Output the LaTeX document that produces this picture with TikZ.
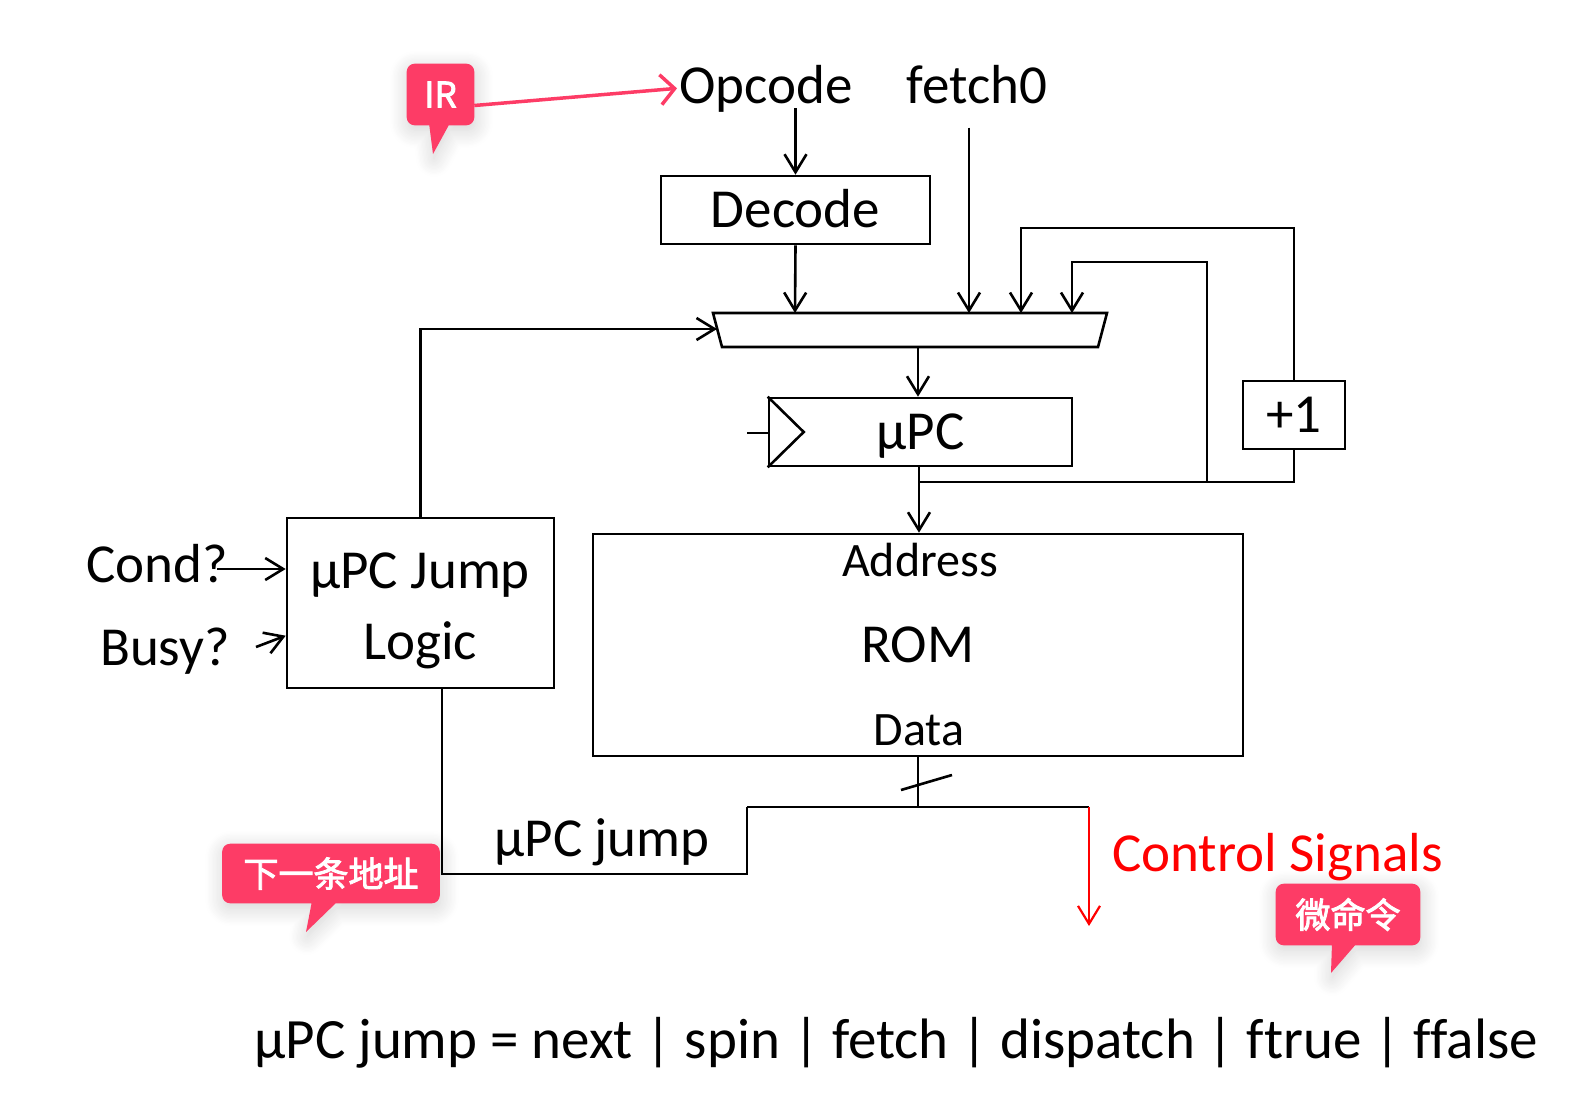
\documentclass[tikz,border=0pt]{standalone}
\usepackage{fontspec}
\setmainfont{Carlito}[Ligatures=NoCommon]
\newfontfamily\cjk{Noto Sans CJK SC}[FakeBold=2.5]
\usetikzlibrary{arrows.meta,calc,backgrounds,shadows.blur}
\definecolor{callpink}{RGB}{253,60,102}
\definecolor{sigred}{RGB}{255,0,0}
\begin{document}
\begin{tikzpicture}[x=1pt,y=-1pt,line width=2.6pt,
  txt/.style={inner sep=0pt,font=\fontsize{55}{66}\selectfont},
  smalltxt/.style={inner sep=0pt,font=\fontsize{48}{58}\selectfont},
  box/.style={draw,inner sep=0pt,font=\fontsize{55}{66}\selectfont,text height=35pt,text depth=0pt},
  plainbox/.style={draw,inner sep=0pt},
  arr/.style={-{Straight Barb[length=18pt,width=22pt]}},
  callnode/.style={inner sep=0pt,text=white,font=\cjk\fontsize{35}{40}\selectfont},
  callfill/.style={fill=callpink,blur shadow={shadow xshift=1pt,shadow yshift=-5pt,shadow opacity=18,shadow blur radius=18pt,shadow blur steps=14}}
]
\useasboundingbox (0,0) rectangle (1588,1098);

% texts at top
\node[txt,anchor=base] (opcode) at (766,103) {Opcode};
\node[txt,anchor=base] (fetch0) at (977,103) {fetch0};

% boxes
\node[box,minimum width=269pt,minimum height=68pt] (decode) at (795.5,210) {Decode};
\node[box,minimum width=303pt,minimum height=68pt] (upc) at (920.5,432) {µPC};
\node[box,minimum width=102pt,minimum height=68pt] (plus1) at (1294,415) {+1};
\node[box,minimum width=650pt,minimum height=222pt] (rom) at (918,645) {ROM};
\node[smalltxt,anchor=base] (addr) at (920,576) {Address};
\node[smalltxt,anchor=base] (data) at (919,745) {Data};
\node[plainbox,minimum width=267pt,minimum height=170pt] (logic) at (420.5,603) {};
\node[txt,anchor=base] (logic1) at (420,588) {µPC Jump};
\node[txt,anchor=base] (logic2) at (420,659) {Logic};

% side / bottom labels
\node[txt,anchor=base] (cond) at (157,582) {Cond?};
\node[txt,anchor=base] (busy) at (165,665) {Busy?};
\node[txt,anchor=base] (jumplbl) at (602,856) {µPC jump};
\node[txt,anchor=base west,text=sigred] (ctrl) at (1111,871) {Control Signals};
\node[inner sep=0pt,font=\fontsize{57}{66}\selectfont,anchor=base west] (eqn) at (253,1058) {µPC jump = next | spin | fetch | dispatch | ftrue | ffalse};

% mux
\coordinate (mtl) at (713,313);
\coordinate (mtr) at (1107,313);
\coordinate (mbr) at (1098,347);
\coordinate (mbl) at (722,347);
\draw (mtl) -- (mtr) -- (mbr) -- (mbl) -- cycle;
\coordinate (m1) at (795,313);
\coordinate (m2) at (969,313);
\coordinate (m3) at (1021,313);
\coordinate (m4) at (1072,313);
\coordinate (mout) at (918,347);
\coordinate (min) at (717,329);

% clock symbol
\draw (upc.north west) -- ($(upc.west)+(36,0)$) -- (upc.south west);
\coordinate (clk) at (747,433);
\draw (clk) -- (clk -| upc.west);

% connectors
\draw[arr] ($(decode.north |- opcode.south)+(0,-5)$) -- (decode.north);
\draw[arr] (decode.south) -- (m1);
\draw[arr] ($(m2 |- fetch0.south)+(0,23)$) -- (m2);
\draw[arr] (mout) -- (mout |- upc.north);
\coordinate (j1) at (919,482);
\draw[arr] (upc.south -| j1) -- (j1 |- rom.north);
\draw (j1) -| (plus1.south);
\coordinate (outerTop) at (1021,228);
\draw[arr] (plus1.north) |- (outerTop) -- (m3);
\coordinate (tap) at (1207,482);
\coordinate (innerTop) at (1072,262);
\draw[arr] (tap) |- (innerTop) -- (m4);
\draw[arr] (logic.north) |- (min);

% ROM output
\coordinate (j2) at (918,807);
\draw (rom.south) -- (j2);
\coordinate (s1) at (901,790);
\coordinate (s2) at (952,775);
\draw (s1) -- (s2);
\coordinate (jl) at (747,807);
\coordinate (jr) at (1089,807);
\draw (jl) -- (jr);
\coordinate (jlb) at (747,874);
\coordinate (lb) at ($(logic.south)+(21.5,0)$);
\draw (jl) -- (jlb) -| (lb);
\coordinate (cs) at (1089,926);
\draw[sigred,line width=2.2pt,arr] (jr) -- (cs);

% inputs to logic
\coordinate (conda) at (217,569);
\draw[arr] (conda) -- (conda -| logic.west);
\coordinate (busya) at (256,647);
\coordinate (busyb) at ($(logic.north west)+(0,119)$);
\draw[arr] (busya) -- (busyb);

% callouts
\node[callnode,minimum width=65pt,minimum height=59pt] (ir) at (440.5,94.5) {IR};
\node[callnode,minimum width=215pt,minimum height=57pt] (nextaddr) at (331,873.5) {下一条地址};
\node[callnode,minimum width=142pt,minimum height=59pt] (micro) at (1348,914.5) {微命令};
\begin{scope}[on background layer]
\fill[callfill] [rounded corners=8pt] (ir.south west) rectangle (ir.north east)
  [sharp corners] (429,123) -- (450,123) -- (433,154) -- cycle;
\fill[callfill] [rounded corners=8pt] (nextaddr.south west) rectangle (nextaddr.north east)
  [sharp corners] (312,901) -- (338,901) -- (306,932) -- cycle;
\fill[callfill] [rounded corners=8pt] (micro.south west) rectangle (micro.north east)
  [sharp corners] (1332,943) -- (1357,943) -- (1331,973) -- cycle;
\end{scope}
\draw[callpink,line width=3.5pt,-{Straight Barb[length=14pt,width=30pt]}] ($(ir.east)+(0,11)$) -- ($(opcode.west)+(-1,0)$);
\end{tikzpicture}
\end{document}
